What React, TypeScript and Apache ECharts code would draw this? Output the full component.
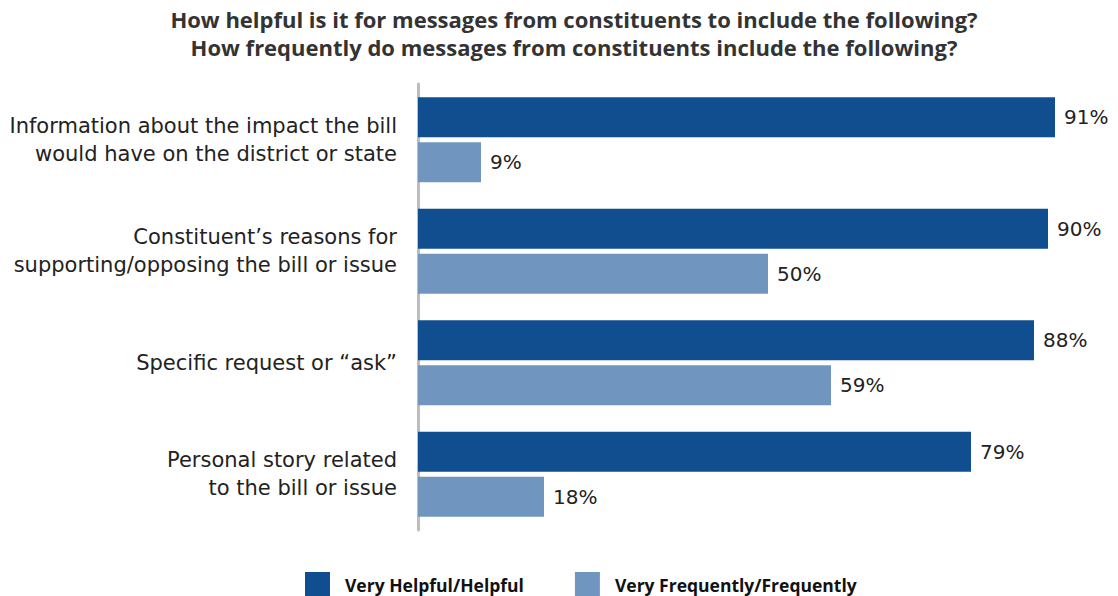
import React, { useEffect, useRef } from "react";
import * as echarts from "echarts";

const categories = [
  "Information about the impact the bill\nwould have on the district or state",
  "Constituent’s reasons for\nsupporting/opposing the bill or issue",
  "Specific request or “ask”",
  "Personal story related\nto the bill or issue",
];
const helpful = [91, 90, 88, 79];
const frequent = [9, 50, 59, 18];
const seriesNames = ["Very Helpful/Helpful", "Very Frequently/Frequently"];
const titleText =
  "How helpful is it for messages from constituents to include the following?\nHow frequently do messages from constituents include the following?";

export default function App() {
  const ref = useRef<HTMLDivElement>(null);
  useEffect(() => {
    if (!ref.current) return;
    const chart = echarts.init(ref.current, undefined, { renderer: "svg" });
    const labelStyle = {
      show: true,
      position: "right",
      distance: 9,
      formatter: "{c}%",
      fontSize: 20,
      color: "#222",
      fontFamily: "DejaVu Sans",
    };
    chart.setOption({
      animation: false,
      backgroundColor: "#ffffff",
      title: {
        text: titleText,
        left: 574,
        textAlign: "center",
        top: 5,
        padding: 0,
        textStyle: {
          fontFamily: "Open Sans",
          fontWeight: "bold",
          fontSize: 22,
          lineHeight: 28,
          color: "#333",
        },
      },
      legend: {
        top: 572,
        left: 305,
        padding: 0,
        itemWidth: 25,
        itemHeight: 25,
        itemGap: 51,
        icon: "rect",
        textStyle: {
          fontFamily: "Open Sans",
          fontWeight: "bold",
          fontSize: 17.5,
          color: "#111",
          padding: [0, 0, 0, 10],
        },
        data: seriesNames,
      },
      grid: { left: 418, right: 0, top: 84, bottom: 66, containLabel: false },
      xAxis: {
        type: "value",
        min: 0,
        max: 100,
        show: false,
      },
      yAxis: {
        type: "category",
        inverse: true,
        data: categories,
        axisLine: { show: true, lineStyle: { color: "#bdbdbd", width: 3 } },
        axisTick: { show: false },
        axisLabel: {
          margin: 21,
          fontSize: 21,
          lineHeight: 28,
          color: "#222",
          fontFamily: "DejaVu Sans",
          align: "right",
        },
      },
      series: [
        {
          name: seriesNames[0],
          type: "bar",
          data: helpful,
          barWidth: 40,
          barGap: "12.5%",
          itemStyle: { color: "#104E8F" },
          label: labelStyle,
        },
        {
          name: seriesNames[1],
          type: "bar",
          data: frequent,
          barWidth: 40,
          itemStyle: { color: "#7096BF" },
          label: labelStyle,
        },
      ],
    });
    return () => chart.dispose();
  }, []);
  return (
    <div
      ref={ref}
      style={{ position: "fixed", left: 0, top: 0, width: 1118, height: 596 }}
    />
  );
}
